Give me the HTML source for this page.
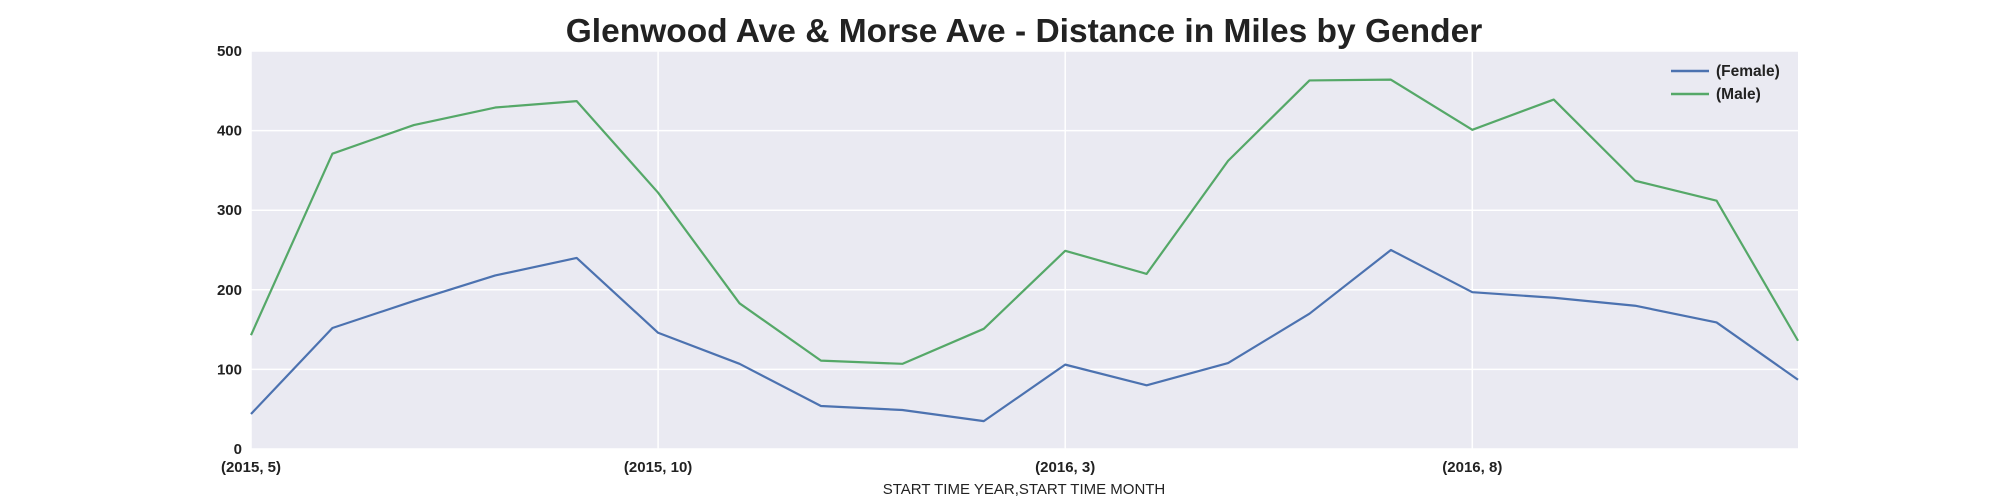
<!DOCTYPE html>
<html><head><meta charset="utf-8"><style>
body{margin:0;background:#fff;}
svg{display:block;font-family:"Liberation Sans",Arial,sans-serif;}
</style></head><body>
<svg width="2000" height="500" id="chart">
<text x="1024" y="42" text-anchor="middle" font-size="33.5" font-weight="bold" fill="#222">Glenwood Ave &amp; Morse Ave - Distance in Miles by Gender</text>
<rect x="251" y="51" width="1547" height="398" fill="#eaeaf2"/>
<g id="grid"></g><g id="series"></g><g id="ticks"></g>
<text x="1024" y="494" text-anchor="middle" font-size="15" fill="#222">START TIME YEAR,START TIME MONTH</text>
<g>
<line x1="1671" y1="71" x2="1709" y2="71" stroke="#4c72b0" stroke-width="2.5"/>
<text x="1716" y="76" font-size="15.5" font-weight="bold" fill="#222">(Female)</text>
<line x1="1671" y1="94" x2="1709" y2="94" stroke="#55a868" stroke-width="2.5"/>
<text x="1716" y="99" font-size="15.5" font-weight="bold" fill="#222">(Male)</text>
</g>
</svg>
<script>
const categories=["(2015, 5)","(2015, 6)","(2015, 7)","(2015, 8)","(2015, 9)","(2015, 10)","(2015, 11)","(2015, 12)","(2016, 1)","(2016, 2)","(2016, 3)","(2016, 4)","(2016, 5)","(2016, 6)","(2016, 7)","(2016, 8)","(2016, 9)","(2016, 10)","(2016, 11)","(2016, 12)"];
const female=[44,152,186,218,240,146,107,54,49,35,106,80,108,170,250,197,190,180,159,87];
const male=[143,371,407,429,437,322,183,111,107,151,249,220,362,463,464,401,439,337,312,136];
const yTicks=[0,100,200,300,400,500];
const xTickIdx=[0,5,10,15];
const NS="http://www.w3.org/2000/svg";
const L=251,R=1798,T=51,B=449;
const xs=i=>L+(R-L)*i/(categories.length-1);
const ys=v=>B-(B-T)*v/500;
function mk(tag,attrs,parent){const e=document.createElementNS(NS,tag);for(const k in attrs)e.setAttribute(k,attrs[k]);document.getElementById(parent).appendChild(e);return e;}
yTicks.forEach(v=>{
 const g=mk("line",{x1:L,x2:R,y1:ys(v),y2:ys(v),stroke:"#fff","stroke-width":1.5},"grid");
 
 
 const t=mk("text",{x:L-9,y:ys(v)+5,"text-anchor":"end","font-size":15,"font-weight":"bold",fill:"#222"},"ticks");
 t.textContent=v;
 
 
});
xTickIdx.forEach(i=>{
 const g=mk("line",{x1:xs(i),x2:xs(i),y1:T,y2:B,stroke:"#fff","stroke-width":1.5},"grid");
 
 
 const t=mk("text",{x:xs(i),y:472,"text-anchor":"middle","font-size":15,"font-weight":"bold",fill:"#222"},"ticks");
 t.textContent=categories[i];
 
 
});
[[female,"#4c72b0","female-line"],[male,"#55a868","male-line"]].forEach(([d,c,n])=>{
 const p=mk("polyline",{points:d.map((v,i)=>xs(i)+","+ys(v)).join(" "),fill:"none",stroke:c,"stroke-width":2.2,"stroke-linejoin":"round"},"series");
 
 
});
</script>
</body></html>
